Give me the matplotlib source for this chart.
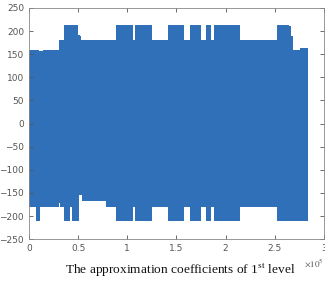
import matplotlib
matplotlib.use("Agg")
import matplotlib.pyplot as plt
from matplotlib.ticker import FuncFormatter

# enveloppe du signal (x en echantillons)
upper_x = [0, 10000, 14000, 31000, 35500, 50000, 51500, 53000, 89000, 106000, 107600,
           125000, 141000, 158000, 163600, 174800, 180500, 185600, 187700, 215000,
           252500, 264000, 266000, 268000, 276000, 284000]
upper_y = [160, 157, 159, 181, 213, 192, 189, 181, 213, 181, 213,
           181, 213, 181, 213, 181, 213, 181, 213, 181,
           213, 211, 190, 160, 163, 160]

lower_x = [0, 6800, 10900, 31000, 32000, 33000, 35500, 41400, 42000, 43500, 44000,
           50900, 54000, 78000, 89000, 106000, 107600, 125000, 141000, 158000,
           163600, 174800, 180500, 185600, 187700, 215000, 252500, 284000]
lower_y = [-180, -211, -180, -172, -180, -180, -211, -175, -180, -211, -211,
           -155, -167, -180, -211, -180, -211, -180, -211, -180,
           -211, -180, -211, -180, -211, -180, -211, -211]

yticks = [-250, -200, -150, -100, -50, 0, 50, 100, 150, 200, 250]
xticks = [0, 50000, 100000, 150000, 200000, 250000, 300000]
titre = "The approximation coefficients of 1$^{\\mathrm{st}}$ level"

plt.rcParams['mathtext.fontset'] = 'stix'
couleur = '#2F70B8'
gris = '#555555'

fig = plt.figure(figsize=(3.25, 2.84), dpi=100)
ax = fig.add_axes([0.089, 0.158, 0.908, 0.814])

# on ferme les marches pour avoir un contour en escalier
ux = upper_x + [upper_x[-1]]
uy = upper_y + [upper_y[-1]]
lx = lower_x + [lower_x[-1]]
ly = lower_y + [lower_y[-1]]
ax.fill_between(ux, uy, 0, step='post', color=couleur, linewidth=0)
ax.fill_between(lx, ly, 0, step='post', color=couleur, linewidth=0)

ax.set_xlim(0, 300000)
ax.set_ylim(-250, 250)
ax.set_xticks(xticks)
ax.set_yticks(yticks)
ax.xaxis.set_major_formatter(FuncFormatter(lambda v, p: "%g" % (v / 1e5)))
ax.tick_params(direction='in', length=3, width=0.6, labelsize=6.5, colors=gris,
               top=True, right=True, labelcolor=gris)
for s in ax.spines.values():
    s.set_color('#888888')
    s.set_linewidth(0.6)

# facteur d'echelle comme dans matlab
fig.text(0.965, 0.072, "$\\times10^{5}$", ha='center', va='center', fontsize=6.5,
         family='DejaVu Sans', color=gris)

fig.text(0.555, 0.049, titre, ha='center', va='center', fontsize=9.6,
         family='Liberation Serif', color='#111111')

fig.savefig("out.png", dpi=100)
